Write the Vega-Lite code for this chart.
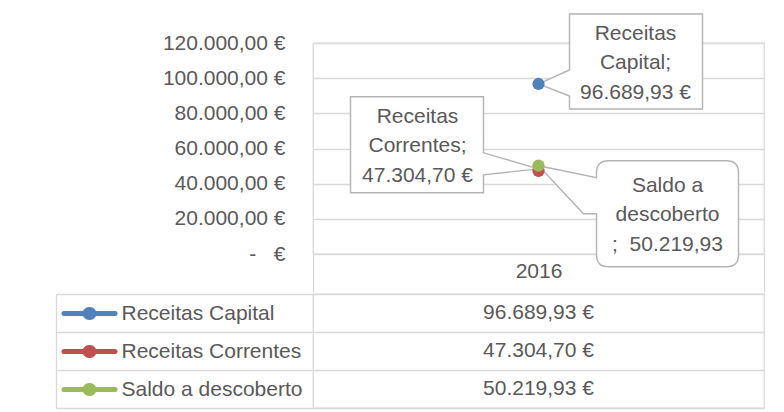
{
  "$schema": "https://vega.github.io/schema/vega-lite/v6.json",
  "background": "white",
  "padding": {"left": 54, "top": 10, "right": 5, "bottom": 2},
  "datasets": {
    "receitas": [
      {"series": "Receitas Capital", "year": "2016", "value": 96689.93},
      {"series": "Receitas Correntes", "year": "2016", "value": 47304.70},
      {"series": "Saldo a descoberto", "year": "2016", "value": 50219.93}
    ]
  },
  "data": {"name": "receitas"},
  "spacing": -16,
  "vconcat": [
    {
      "width": 451,
      "height": 211,
      "encoding": {
        "x": {
          "field": "year", "type": "nominal",
          "scale": {"type": "band", "paddingInner": 0, "paddingOuter": 0},
          "axis": {
            "title": null, "domain": false, "grid": false, "ticks": true,
            "tickBand": "extent", "tickSize": 38, "tickColor": "#d9d9d9", "tickWidth": 1.3,
            "labelPadding": -21, "labelBaseline": "middle", "labelAngle": 0,
            "labelFontSize": 21, "labelColor": "#595959",
            "minExtent": 38, "maxExtent": 38
          }
        },
        "y": {
          "field": "value", "type": "quantitative",
          "scale": {"domain": [0, 120000], "nice": false},
          "axis": {
            "title": null,
            "values": [0, 20000, 40000, 60000, 80000, 100000, 120000],
            "format": "$,.2f",
            "labelExpr": "datum.value === 0 ? '-\u00a0\u00a0\u00a0€' : datum.label",
            "grid": true, "gridColor": "#d9d9d9", "gridWidth": 1.3,
            "domain": false, "ticks": false, "labelPadding": 28,
            "labelFontSize": 21, "labelColor": "#595959"
          }
        }
      },
      "layer": [
        {
          "transform": [{"filter": "datum.series === 'Receitas Capital'"}],
          "mark": {"type": "point", "shape": "M31,-14 L31,-70 L164,-70 L164,25 L31,25 L31,12 L0,0 Z", "size": 4, "filled": true, "fill": "white", "stroke": "#b3b3b3", "strokeWidth": 1.4, "opacity": 1}
        },
        {
          "transform": [{"filter": "datum.series === 'Receitas Correntes'"}],
          "mark": {"type": "point", "shape": "M-55,-18 L-55,-74 L-188,-74 L-188,22 L-55,22 L-55,4 L0,-2 Z", "size": 4, "filled": true, "fill": "white", "stroke": "#b3b3b3", "strokeWidth": 1.4, "opacity": 1}
        },
        {
          "transform": [{"filter": "datum.series === 'Saldo a descoberto'"}],
          "mark": {"type": "point", "shape": "M58,12 L58,7 Q58,-5 70,-5 L188,-5 Q200,-5 200,7 L200,89 Q200,101 188,101 L70,101 Q58,101 58,89 L58,48 L45,48 L0,0 Z", "size": 4, "filled": true, "fill": "white", "stroke": "#b3b3b3", "strokeWidth": 1.4, "opacity": 1}
        },
        {
          "mark": {"type": "circle", "size": 150, "opacity": 1},
          "encoding": {
            "color": {
              "field": "series", "type": "nominal",
              "scale": {"domain": ["Receitas Capital", "Receitas Correntes", "Saldo a descoberto"], "range": ["#4f81bd", "#c0504d", "#9bbb59"]},
              "legend": null
            }
          }
        },
        {
          "transform": [{"filter": "datum.series === 'Receitas Capital'"}],
          "mark": {"type": "text", "dx": 97, "dy": -50, "align": "center", "baseline": "middle", "fontSize": 21, "lineHeight": 29.5, "color": "#595959"},
          "encoding": {"text": {"value": ["Receitas", "Capital;", "96.689,93 €"]}}
        },
        {
          "transform": [{"filter": "datum.series === 'Receitas Correntes'"}],
          "mark": {"type": "text", "dx": -121, "dy": -54, "align": "center", "baseline": "middle", "fontSize": 21, "lineHeight": 29.5, "color": "#595959"},
          "encoding": {"text": {"value": ["Receitas", "Correntes;", "47.304,70 €"]}}
        },
        {
          "transform": [{"filter": "datum.series === 'Saldo a descoberto'"}],
          "mark": {"type": "text", "dx": 129, "dy": 20, "align": "center", "baseline": "middle", "fontSize": 21, "lineHeight": 29.5, "color": "#595959"},
          "encoding": {"text": {"value": ["Saldo a", "descoberto", ";\u00a0\u00a050.219,93"]}}
        }
      ]
    },
    {
      "width": 451,
      "height": 114,
      "layer": [
        {
          "mark": {"type": "text", "fontSize": 21, "color": "#595959"},
          "encoding": {
            "text": {"field": "value", "type": "quantitative", "format": "$,.2f"},
            "y": {
              "field": "series", "type": "nominal", "sort": null,
              "scale": {"type": "band", "paddingInner": 0, "paddingOuter": 0},
              "axis": {
                "orient": "left", "title": null, "offset": 257,
                "domain": true, "domainColor": "#d9d9d9", "domainWidth": 1.3,
                "ticks": true, "tickBand": "extent", "tickSize": -257, "tickColor": "#d9d9d9", "tickWidth": 1.3,
                "grid": true, "gridColor": "#d9d9d9", "gridWidth": 1.3,
                "labels": true, "labelAlign": "left", "labelBaseline": "middle", "labelPadding": 192,
                "labelFontSize": 21, "labelColor": "#595959", "labelLimit": 300
              }
            }
          }
        },
        {
          "mark": {"type": "text", "opacity": 0},
          "encoding": {
            "y": {
              "field": "series", "type": "nominal", "sort": null,
              "scale": {"type": "band", "paddingInner": 0, "paddingOuter": 0},
              "axis": {
                "orient": "left", "title": null, "offset": 198.5,
                "domain": false, "grid": false, "labels": false,
                "ticks": true, "tickSize": 51, "tickWidth": 5, "tickCap": "round",
                "tickColor": {"condition": [{"test": "datum.value === 'Receitas Capital'", "value": "#4f81bd"}, {"test": "datum.value === 'Receitas Correntes'", "value": "#c0504d"}], "value": "#9bbb59"}
              }
            }
          }
        },
        {
          "mark": {"type": "text", "opacity": 0},
          "encoding": {
            "y": {
              "field": "series", "type": "nominal", "sort": null,
              "scale": {"type": "band", "paddingInner": 0, "paddingOuter": 0},
              "axis": {
                "orient": "left", "title": null, "offset": 223.5,
                "domain": false, "grid": false, "labels": false,
                "ticks": true, "tickSize": 1, "tickWidth": 13, "tickCap": "round",
                "tickColor": {"condition": [{"test": "datum.value === 'Receitas Capital'", "value": "#4f81bd"}, {"test": "datum.value === 'Receitas Correntes'", "value": "#c0504d"}], "value": "#9bbb59"}
              }
            }
          }
        }
      ],
      "resolve": {"axis": {"y": "independent"}}
    }
  ],
  "config": {
    "font": "Liberation Sans",
    "locale": {"number": {"decimal": ",", "thousands": ".", "grouping": [3], "currency": ["", " €"]}},
    "view": {"stroke": "#d9d9d9", "strokeWidth": 1.3}
  }
}
